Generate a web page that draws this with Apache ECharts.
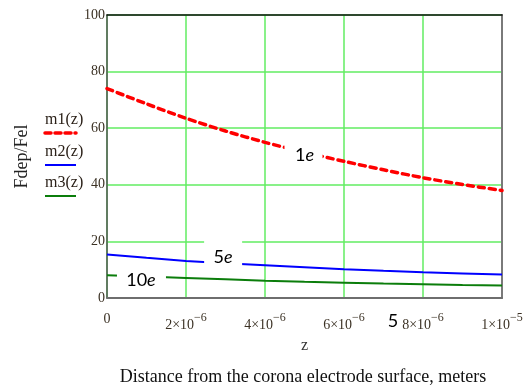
<!DOCTYPE html>
<html>
<head>
<meta charset="utf-8">
<script src="https://cdn.jsdelivr.net/npm/echarts@6/dist/echarts.min.js"></script>
<style>
  html, body { margin: 0; padding: 0; background: #fff; }
  #chart { width: 530px; height: 385px; }
</style>
</head>
<body>
<div id="chart"></div>
<script>
// Distance from the electrode surface, meters
const z = [0, 1e-6, 2e-6, 3e-6, 4e-6, 5e-6, 6e-6, 7e-6, 8e-6, 9e-6, 1e-5];
// Force ratios Fdep/Fel for three charge levels
const m1 = [74.0, 68.6, 63.5, 59.0, 55.0, 51.5, 48.3, 45.3, 42.5, 40.1, 38.0];
const m2 = [15.4, 14.2, 13.1, 12.3, 11.6, 10.9, 10.2, 9.6, 9.1, 8.7, 8.3];
const m3 = [8.0, 7.6, 7.1, 6.6, 6.1, 5.7, 5.4, 5.1, 4.9, 4.6, 4.4];
const seriesNames = ['m1(z)', 'm2(z)', 'm3(z)'];
const yTicks = [0, 20, 40, 60, 80, 100];

const serif = '"Liberation Serif", "DejaVu Serif", serif';
const sans = 'Lato, "Open Sans", sans-serif';
const tickColor = '#3b3124';
const gridGreen = '#62ec62';
const colors = ['#ff0000', '#0000ff', '#0b7d0b'];

const pairs = arr => z.map((x, i) => [x, arr[i]]);

function xLabel(v) {
  if (v === 0) return '0';
  const e = Math.floor(Math.log10(v) + 1e-9);
  const m = Math.round(v / Math.pow(10, e));
  return '{b|' + m + '×10}{s|\u2212' + (-e) + '}';
}

const chart = echarts.init(document.getElementById('chart'), null, { renderer: 'canvas' });

const grid = { left: 107, right: 28, top: 15, bottom: 87 };

chart.setOption({
  animation: false,
  backgroundColor: '#fff',
  grid: grid,
  xAxis: [{
    type: 'value', min: 0, max: 1e-5, interval: 2e-6,
    name: 'z', nameLocation: 'middle', nameGap: 40,
    nameTextStyle: { fontFamily: serif, fontSize: 16, color: '#333' },
    axisLine: { show: true, onZero: false, lineStyle: { color: '#6e6e6e', width: 2 } },
    axisTick: { show: false },
    splitLine: { show: true, lineStyle: { color: gridGreen, width: 1.5 } },
    axisLabel: {
      margin: 14, formatter: xLabel, fontFamily: serif, fontSize: 14, color: tickColor,
      rich: {
        b: { fontFamily: serif, fontSize: 14, color: tickColor, verticalAlign: 'bottom', lineHeight: 20 },
        s: { fontFamily: serif, fontSize: 12, color: tickColor, verticalAlign: 'top', lineHeight: 20 }
      }
    }
  }, {
    type: 'value', min: 0, max: 1e-5, position: 'top',
    axisLine: { show: true, onZero: false, lineStyle: { color: '#111', width: 1.5 } },
    axisTick: { show: false }, axisLabel: { show: false }, splitLine: { show: false }
  }],
  yAxis: [{
    type: 'value', min: yTicks[0], max: yTicks[yTicks.length - 1], interval: 20,
    name: 'Fdep/Fel', nameLocation: 'middle', nameGap: 76,
    nameTextStyle: { fontFamily: serif, fontSize: 18, color: '#222' },
    axisLine: { show: true, onZero: false, lineStyle: { color: '#555', width: 1.5 } },
    axisTick: { show: false },
    splitLine: { show: true, lineStyle: { color: gridGreen, width: 1.5 } },
    axisLabel: { margin: 2, fontFamily: serif, fontSize: 14, color: tickColor }
  }, {
    type: 'value', min: 0, max: 100, position: 'right',
    axisLine: { show: true, onZero: false, lineStyle: { color: '#7a7a7a', width: 2 } },
    axisTick: { show: false }, axisLabel: { show: false }, splitLine: { show: false }
  }],
  series: [
    {
      name: seriesNames[0], type: 'line', data: pairs(m1), showSymbol: false, smooth: 0.3,
      lineStyle: { color: colors[0], width: 3.5, type: [6, 5], cap: 'round' }, z: 3
    },
    {
      name: seriesNames[1], type: 'line', data: pairs(m2), showSymbol: false,
      lineStyle: { color: colors[1], width: 2 }, z: 3
    },
    {
      name: seriesNames[2], type: 'line', data: pairs(m3), showSymbol: false,
      lineStyle: { color: colors[2], width: 2 }, z: 3
    }
  ]
});

// Curve annotations: text anchored in data space, with white boxes (pixel offsets/sizes)
const notes = [
  { parts: [['n', '1'], ['i', 'e']], at: [5.0e-6, 50.5], box: [-20, -15, 38, 30] },
  { parts: [['n', '5'], ['i', 'e']], at: [2.94e-6, 14.3], box: [-19, -20, 38, 29] },
  { parts: [['n', '10'], ['i', 'e']], at: [0.86e-6, 6.2], box: [-24, -17, 49, 29] },
  { parts: [['n', '5']], at: [7.24e-6, -8.1], box: [-6, -9, 12, 18] }
];

const graphics = [];
notes.forEach(n => {
  const p = chart.convertToPixel({ xAxisIndex: 0, yAxisIndex: 0 }, n.at);
  graphics.push({
    type: 'rect', z: 50,
    shape: { x: p[0] + n.box[0], y: p[1] + n.box[1], width: n.box[2], height: n.box[3] },
    style: { fill: '#fff' }
  });
  graphics.push({
    type: 'text', z: 51, x: p[0], y: p[1],
    style: {
      text: n.parts.map(t => '{' + t[0] + '|' + t[1] + '}').join(''),
      align: 'center', verticalAlign: 'middle',
      rich: {
        n: { fontFamily: sans, fontSize: 18, color: '#111' },
        i: { fontFamily: sans, fontSize: 18, color: '#111', fontStyle: 'italic' }
      }
    }
  });
});

// Legend block: name above a line sample in series style
const legendY = [120, 152, 183];
seriesNames.forEach((name, i) => {
  graphics.push({
    type: 'text', z: 51, x: 45, y: legendY[i],
    style: { text: name, fontFamily: serif, fontSize: 16, fill: '#2a2018', verticalAlign: 'middle' }
  });
  graphics.push({
    type: 'line', z: 51,
    shape: { x1: 45, y1: legendY[i] + 13, x2: 76, y2: legendY[i] + 13 },
    style: i === 0
      ? { stroke: colors[i], lineWidth: 3.5, lineDash: [6, 4], lineCap: 'round' }
      : { stroke: colors[i], lineWidth: 2 }
  });
});

// Axis caption under the plot
graphics.push({
  type: 'text', z: 51, x: 303, y: 377,
  style: {
    text: 'Distance from the corona electrode surface, meters',
    fontFamily: serif, fontSize: 18, fill: '#111', align: 'center', verticalAlign: 'middle'
  }
});

chart.setOption({ graphic: graphics });
</script>
</body>
</html>
